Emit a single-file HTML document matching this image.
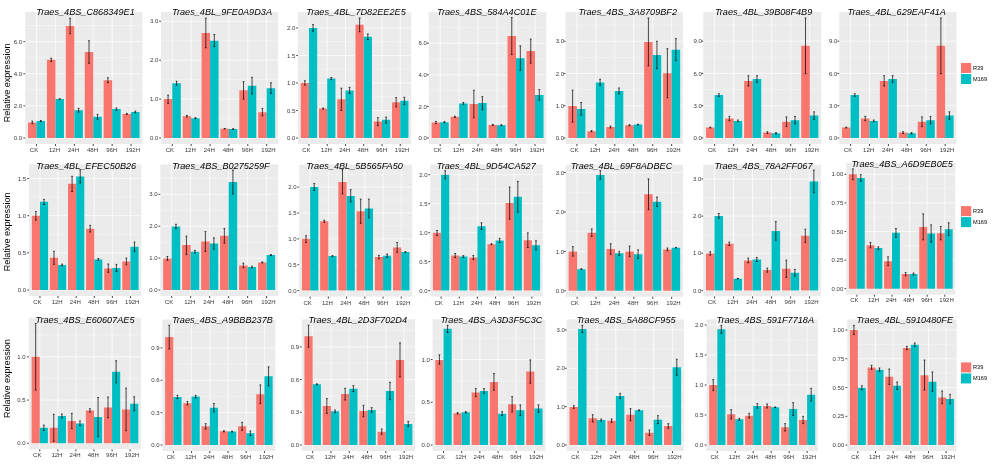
<!DOCTYPE html>
<html><head><meta charset="utf-8"><title>Relative expression</title>
<style>html,body{margin:0;padding:0;background:#fff}body{width:994px;height:466px;overflow:hidden}svg{display:block;filter:blur(0.35px)}</style>
</head><body>
<svg width="994" height="466" viewBox="0 0 994 466" font-family="'Liberation Sans', Arial, sans-serif">
<rect width="994" height="466" fill="#fff"/>
<g>
<rect x="25.2" y="12.1" width="117.2" height="131.87" fill="#EBEBEB"/>
<path d="M25.2 121.93H142.4M25.2 89.79H142.4M25.2 57.65H142.4M25.2 25.51H142.4" stroke="#fff" stroke-width="0.35" fill="none"/>
<path d="M25.2 138H142.4M25.2 105.86H142.4M25.2 73.72H142.4M25.2 41.58H142.4M36.54 12.1V143.97M55.45 12.1V143.97M74.35 12.1V143.97M93.25 12.1V143.97M112.15 12.1V143.97M131.06 12.1V143.97" stroke="#fff" stroke-width="0.7" fill="none"/>
<path d="M28.04 138V122.41H36.54V138ZM46.94 138V59.74H55.45V138ZM65.84 138V25.99H74.35V138ZM84.75 138V52.03H93.25V138ZM103.65 138V80.15H112.15V138ZM122.55 138V113.89H131.06V138Z" fill="#F8766D"/>
<path d="M36.54 138V121.05H45.05V138ZM55.45 138V99.11H63.95V138ZM74.35 138V110.2H82.85V138ZM93.25 138V116.79H101.76V138ZM112.15 138V109.07H120.66V138ZM131.06 138V111.97H139.56V138Z" fill="#00BFC4"/>
<path d="M32.29 121.13V123.7M31.39 121.13H33.19M31.39 123.7H33.19M40.8 120.48V121.61M39.9 120.48H41.7M39.9 121.61H41.7M51.19 58.13V61.35M50.29 58.13H52.09M50.29 61.35H52.09M59.7 98.63V99.59M58.8 98.63H60.6M58.8 99.59H60.6M70.1 18.28V33.71M69.2 18.28H71M69.2 33.71H71M78.6 108.27V112.13M77.7 108.27H79.5M77.7 112.13H79.5M89 40.78V63.27M88.1 40.78H89.9M88.1 63.27H89.9M97.5 114.38V119.2M96.6 114.38H98.4M96.6 119.2H98.4M107.9 77.74V82.56M107 77.74H108.8M107 82.56H108.8M116.41 107.95V110.2M115.51 107.95H117.31M115.51 110.2H117.31M126.8 113.41V114.38M125.9 113.41H127.7M125.9 114.38H127.7M135.31 111.16V112.77M134.41 111.16H136.21M134.41 112.77H136.21" stroke="#000" stroke-width="0.7" fill="none"/>
<path d="M23.4 138H25.2M23.4 105.86H25.2M23.4 73.72H25.2M23.4 41.58H25.2M36.54 143.97V146.07M55.45 143.97V146.07M74.35 143.97V146.07M93.25 143.97V146.07M112.15 143.97V146.07M131.06 143.97V146.07" stroke="#333" stroke-width="0.9" fill="none"/>
<g font-size="6.03" fill="#383838" text-anchor="end">
<text x="22" y="140.15">0.0</text>
<text x="22" y="108.01">2.0</text>
<text x="22" y="75.87">4.0</text>
<text x="22" y="43.73">6.0</text>
</g>
<g font-size="6.03" fill="#383838" text-anchor="middle">
<text x="34.04" y="151.52">CK</text>
<text x="54.55" y="151.52">12H</text>
<text x="73.55" y="151.52">24H</text>
<text x="92.5" y="151.52">48H</text>
<text x="111.65" y="151.52">96H</text>
<text x="132.86" y="151.52">192H</text>
</g>
<text transform="translate(85.5 14.8) scale(1 1.05)" font-size="9.15" font-style="italic" fill="#000" text-anchor="middle">Traes_4BS_C868349E1</text>
<text transform="translate(10 82.95) rotate(-90) scale(1 1.05)" font-size="9.05" fill="#000" text-anchor="middle">Relative expression</text>
</g>
<g>
<rect x="161" y="12.1" width="117" height="131.87" fill="#EBEBEB"/>
<path d="M161 118.55H278M161 79.65H278M161 40.75H278" stroke="#fff" stroke-width="0.35" fill="none"/>
<path d="M161 138H278M161 99.1H278M161 60.2H278M161 21.3H278M172.32 12.1V143.97M191.19 12.1V143.97M210.06 12.1V143.97M228.94 12.1V143.97M247.81 12.1V143.97M266.68 12.1V143.97" stroke="#fff" stroke-width="0.7" fill="none"/>
<path d="M163.83 138V99.1H172.32V138ZM182.7 138V116.22H191.19V138ZM201.57 138V32.97H210.06V138ZM220.44 138V128.66H228.94V138ZM239.31 138V90.15H247.81V138ZM258.19 138V112.33H266.68V138Z" fill="#F8766D"/>
<path d="M172.32 138V83.15H180.81V138ZM191.19 138V118.16H199.69V138ZM210.06 138V40.75H218.56V138ZM228.94 138V129.05H237.43V138ZM247.81 138V85.87H256.3V138ZM266.68 138V88.21H275.17V138Z" fill="#00BFC4"/>
<path d="M168.08 95.21V103.38M167.18 95.21H168.98M167.18 103.38H168.98M176.57 81.21V85.1M175.67 81.21H177.47M175.67 85.1H177.47M186.95 115.44V116.99M186.05 115.44H187.85M186.05 116.99H187.85M195.44 117.58V118.74M194.54 117.58H196.34M194.54 118.74H196.34M205.82 18.19V47.75M204.92 18.19H206.72M204.92 47.75H206.72M214.31 34.53V46.58M213.41 34.53H215.21M213.41 46.58H215.21M224.69 128.47V128.86M223.79 128.47H225.59M223.79 128.86H225.59M233.18 128.66V129.44M232.28 128.66H234.08M232.28 129.44H234.08M243.56 81.59V99.1M242.66 81.59H244.46M242.66 99.1H244.46M252.05 77.32V94.04M251.15 77.32H252.95M251.15 94.04H252.95M262.43 108.44V115.83M261.53 108.44H263.33M261.53 115.83H263.33M270.92 82.76V93.27M270.02 82.76H271.82M270.02 93.27H271.82" stroke="#000" stroke-width="0.7" fill="none"/>
<path d="M159.2 138H161M159.2 99.1H161M159.2 60.2H161M159.2 21.3H161M172.32 143.97V146.07M191.19 143.97V146.07M210.06 143.97V146.07M228.94 143.97V146.07M247.81 143.97V146.07M266.68 143.97V146.07" stroke="#333" stroke-width="0.9" fill="none"/>
<g font-size="6.03" fill="#383838" text-anchor="end">
<text x="158.3" y="140.15">0.0</text>
<text x="158.3" y="101.25">1.0</text>
<text x="158.3" y="62.35">2.0</text>
<text x="158.3" y="23.45">3.0</text>
</g>
<g font-size="6.03" fill="#383838" text-anchor="middle">
<text x="169.82" y="151.52">CK</text>
<text x="190.29" y="151.52">12H</text>
<text x="209.26" y="151.52">24H</text>
<text x="228.19" y="151.52">48H</text>
<text x="247.31" y="151.52">96H</text>
<text x="268.48" y="151.52">192H</text>
</g>
<text transform="translate(222 14.8) scale(1 1.05)" font-size="9.15" font-style="italic" fill="#000" text-anchor="middle">Traes_4BL_9FE0A9D3A</text>
</g>
<g>
<rect x="298" y="12.1" width="113.2" height="131.87" fill="#EBEBEB"/>
<path d="M298 124.24H411.2M298 96.71H411.2M298 69.19H411.2M298 41.66H411.2M298 14.14H411.2" stroke="#fff" stroke-width="0.35" fill="none"/>
<path d="M298 138H411.2M298 110.47H411.2M298 82.95H411.2M298 55.43H411.2M298 27.9H411.2M308.95 12.1V143.97M327.21 12.1V143.97M345.47 12.1V143.97M363.73 12.1V143.97M381.99 12.1V143.97M400.25 12.1V143.97" stroke="#fff" stroke-width="0.7" fill="none"/>
<path d="M300.74 138V82.95H308.95V138ZM319 138V108.55H327.21V138ZM337.25 138V99.19H345.47V138ZM355.51 138V24.87H363.73V138ZM373.77 138V121.48H381.99V138ZM392.03 138V102.22H400.25V138Z" fill="#F8766D"/>
<path d="M308.95 138V27.9H317.17V138ZM327.21 138V78.55H335.43V138ZM345.47 138V90.38H353.69V138ZM363.73 138V36.71H371.95V138ZM381.99 138V119.83H390.2V138ZM400.25 138V100.84H408.46V138Z" fill="#00BFC4"/>
<path d="M304.85 80.75V85.15M303.95 80.75H305.75M303.95 85.15H305.75M313.06 24.6V31.2M312.16 24.6H313.96M312.16 31.2H313.96M323.1 108V109.1M322.2 108H324M322.2 109.1H324M331.32 77.44V79.65M330.42 77.44H332.22M330.42 79.65H332.22M341.36 88.18V110.47M340.46 88.18H342.26M340.46 110.47H342.26M349.58 87.35V93.41M348.68 87.35H350.48M348.68 93.41H350.48M359.62 17.99V31.75M358.72 17.99H360.52M358.72 31.75H360.52M367.84 33.96V39.46M366.94 33.96H368.74M366.94 39.46H368.74M377.88 117.63V125.61M376.98 117.63H378.78M376.98 125.61H378.78M386.1 117.08V123.14M385.2 117.08H387M385.2 123.14H387M396.14 97.54V106.9M395.24 97.54H397.04M395.24 106.9H397.04M404.35 97.26V104.42M403.45 97.26H405.25M403.45 104.42H405.25" stroke="#000" stroke-width="0.7" fill="none"/>
<path d="M296.2 138H298M296.2 110.47H298M296.2 82.95H298M296.2 55.43H298M296.2 27.9H298M308.95 143.97V146.07M327.21 143.97V146.07M345.47 143.97V146.07M363.73 143.97V146.07M381.99 143.97V146.07M400.25 143.97V146.07" stroke="#333" stroke-width="0.9" fill="none"/>
<g font-size="6.03" fill="#383838" text-anchor="end">
<text x="295.3" y="140.15">0.0</text>
<text x="295.3" y="112.62">0.5</text>
<text x="295.3" y="85.1">1.0</text>
<text x="295.3" y="57.58">1.5</text>
<text x="295.3" y="30.05">2.0</text>
</g>
<g font-size="6.03" fill="#383838" text-anchor="middle">
<text x="306.45" y="151.52">CK</text>
<text x="326.31" y="151.52">12H</text>
<text x="344.67" y="151.52">24H</text>
<text x="362.98" y="151.52">48H</text>
<text x="381.49" y="151.52">96H</text>
<text x="402.05" y="151.52">192H</text>
</g>
<text transform="translate(356 14.8) scale(1 1.05)" font-size="9.15" font-style="italic" fill="#000" text-anchor="middle">Traes_4BL_7D82EE2E5</text>
</g>
<g>
<rect x="428.8" y="12.1" width="117.6" height="131.87" fill="#EBEBEB"/>
<path d="M428.8 122.2H546.4M428.8 90.6H546.4M428.8 59H546.4M428.8 27.4H546.4" stroke="#fff" stroke-width="0.35" fill="none"/>
<path d="M428.8 138H546.4M428.8 106.4H546.4M428.8 74.8H546.4M428.8 43.2H546.4M440.18 12.1V143.97M459.15 12.1V143.97M478.12 12.1V143.97M497.08 12.1V143.97M516.05 12.1V143.97M535.02 12.1V143.97" stroke="#fff" stroke-width="0.7" fill="none"/>
<path d="M431.65 138V122.52H440.18V138ZM450.61 138V116.83H459.15V138ZM469.58 138V104.03H478.12V138ZM488.55 138V124.89H497.08V138ZM507.52 138V36.09H516.05V138ZM526.48 138V50.94H535.02V138Z" fill="#F8766D"/>
<path d="M440.18 138V122.2H448.72V138ZM459.15 138V103.4H467.68V138ZM478.12 138V103.08H486.65V138ZM497.08 138V125.2H505.62V138ZM516.05 138V58.37H524.59V138ZM535.02 138V95.02H543.55V138Z" fill="#00BFC4"/>
<path d="M435.91 121.41V123.62M435.01 121.41H436.81M435.01 123.62H436.81M444.45 121.57V122.83M443.55 121.57H445.35M443.55 122.83H445.35M454.88 116.2V117.46M453.98 116.2H455.78M453.98 117.46H455.78M463.42 102.45V104.35M462.52 102.45H464.32M462.52 104.35H464.32M473.85 90.28V117.78M472.95 90.28H474.75M472.95 117.78H474.75M482.38 96.6V109.72M481.48 96.6H483.28M481.48 109.72H483.28M492.82 124.41V125.36M491.92 124.41H493.72M491.92 125.36H493.72M501.35 124.73V125.68M500.45 124.73H502.25M500.45 125.68H502.25M511.78 17.6V54.58M510.88 17.6H512.68M510.88 54.58H512.68M520.32 45.89V70.38M519.42 45.89H521.22M519.42 70.38H521.22M530.75 39.09V63.11M529.85 39.09H531.65M529.85 63.11H531.65M539.29 89.65V100.08M538.39 89.65H540.19M538.39 100.08H540.19" stroke="#000" stroke-width="0.7" fill="none"/>
<path d="M427 138H428.8M427 106.4H428.8M427 74.8H428.8M427 43.2H428.8M440.18 143.97V146.07M459.15 143.97V146.07M478.12 143.97V146.07M497.08 143.97V146.07M516.05 143.97V146.07M535.02 143.97V146.07" stroke="#333" stroke-width="0.9" fill="none"/>
<g font-size="6.03" fill="#383838" text-anchor="end">
<text x="426.9" y="140.15">0.0</text>
<text x="426.9" y="108.55">2.0</text>
<text x="426.9" y="76.95">4.0</text>
<text x="426.9" y="45.35">6.0</text>
</g>
<g font-size="6.03" fill="#383838" text-anchor="middle">
<text x="437.68" y="151.52">CK</text>
<text x="458.25" y="151.52">12H</text>
<text x="477.32" y="151.52">24H</text>
<text x="496.33" y="151.52">48H</text>
<text x="515.55" y="151.52">96H</text>
<text x="536.82" y="151.52">192H</text>
</g>
<text transform="translate(486.8 14.8) scale(1 1.05)" font-size="9.15" font-style="italic" fill="#000" text-anchor="middle">Traes_4BS_584A4C01E</text>
</g>
<g>
<rect x="565.5" y="12.1" width="117.5" height="131.87" fill="#EBEBEB"/>
<path d="M565.5 121.88H683M565.5 89.62H683M565.5 57.38H683M565.5 25.12H683" stroke="#fff" stroke-width="0.35" fill="none"/>
<path d="M565.5 138H683M565.5 105.75H683M565.5 73.5H683M565.5 41.25H683M576.87 12.1V143.97M595.82 12.1V143.97M614.77 12.1V143.97M633.73 12.1V143.97M652.68 12.1V143.97M671.63 12.1V143.97" stroke="#fff" stroke-width="0.7" fill="none"/>
<path d="M568.34 138V106.07H576.87V138ZM587.29 138V131.23H595.82V138ZM606.25 138V127.03H614.77V138ZM625.2 138V125.26H633.73V138ZM644.15 138V41.89H652.68V138ZM663.1 138V73.18H671.63V138Z" fill="#F8766D"/>
<path d="M576.87 138V108.97H585.4V138ZM595.82 138V82.53H604.35V138ZM614.77 138V90.91H623.3V138ZM633.73 138V124.62H642.25V138ZM652.68 138V54.96H661.21V138ZM671.63 138V49.63H680.16V138Z" fill="#00BFC4"/>
<path d="M572.61 90.11V122.2M571.71 90.11H573.51M571.71 122.2H573.51M581.14 102.53V115.1M580.24 102.53H582.04M580.24 115.1H582.04M591.56 130.58V131.87M590.66 130.58H592.46M590.66 131.87H592.46M600.09 79.31V85.43M599.19 79.31H600.99M599.19 85.43H600.99M610.51 126.07V128M609.61 126.07H611.41M609.61 128H611.41M619.04 88.01V93.82M618.14 88.01H619.94M618.14 93.82H619.94M629.46 124.78V125.75M628.56 124.78H630.36M628.56 125.75H630.36M637.99 124.29V124.94M637.09 124.29H638.89M637.09 124.94H638.89M648.41 18.03V65.76M647.51 18.03H649.31M647.51 65.76H649.31M656.94 41.25V68.66M656.04 41.25H657.84M656.04 68.66H657.84M667.36 48.67V97.69M666.46 48.67H668.26M666.46 97.69H668.26M675.89 38.67V60.6M674.99 38.67H676.79M674.99 60.6H676.79" stroke="#000" stroke-width="0.7" fill="none"/>
<path d="M563.7 138H565.5M563.7 105.75H565.5M563.7 73.5H565.5M563.7 41.25H565.5M576.87 143.97V146.07M595.82 143.97V146.07M614.77 143.97V146.07M633.73 143.97V146.07M652.68 143.97V146.07M671.63 143.97V146.07" stroke="#333" stroke-width="0.9" fill="none"/>
<g font-size="6.03" fill="#383838" text-anchor="end">
<text x="564" y="140.15">0.0</text>
<text x="564" y="107.9">1.0</text>
<text x="564" y="75.65">2.0</text>
<text x="564" y="43.4">3.0</text>
</g>
<g font-size="6.03" fill="#383838" text-anchor="middle">
<text x="574.37" y="151.52">CK</text>
<text x="594.92" y="151.52">12H</text>
<text x="613.97" y="151.52">24H</text>
<text x="632.98" y="151.52">48H</text>
<text x="652.18" y="151.52">96H</text>
<text x="673.43" y="151.52">192H</text>
</g>
<text transform="translate(627.8 14.8) scale(1 1.05)" font-size="9.15" font-style="italic" fill="#000" text-anchor="middle">Traes_4BS_3A8709BF2</text>
</g>
<g>
<rect x="703.2" y="12.1" width="118" height="131.87" fill="#EBEBEB"/>
<path d="M703.2 121.86H821.2M703.2 89.58H821.2M703.2 57.3H821.2M703.2 25.02H821.2" stroke="#fff" stroke-width="0.35" fill="none"/>
<path d="M703.2 138H821.2M703.2 105.72H821.2M703.2 73.44H821.2M703.2 41.16H821.2M714.62 12.1V143.97M733.65 12.1V143.97M752.68 12.1V143.97M771.72 12.1V143.97M790.75 12.1V143.97M809.78 12.1V143.97" stroke="#fff" stroke-width="0.7" fill="none"/>
<path d="M706.05 138V127.56H714.62V138ZM725.09 138V118.52H733.65V138ZM744.12 138V80.97H752.68V138ZM763.15 138V132.62H771.72V138ZM782.18 138V121.86H790.75V138ZM801.22 138V45.79H809.78V138Z" fill="#F8766D"/>
<path d="M714.62 138V95.07H723.18V138ZM733.65 138V120.89H742.22V138ZM752.68 138V79.04H761.25V138ZM771.72 138V133.27H780.28V138ZM790.75 138V120.25H799.31V138ZM809.78 138V115.51H818.35V138Z" fill="#00BFC4"/>
<path d="M710.34 127.13V127.99M709.44 127.13H711.24M709.44 127.99H711.24M718.9 93.78V96.36M718 93.78H719.8M718 96.36H719.8M729.37 116.37V120.68M728.47 116.37H730.27M728.47 120.68H730.27M737.93 120.03V121.75M737.03 120.03H738.83M737.03 121.75H738.83M748.4 75.7V86.03M747.5 75.7H749.3M747.5 86.03H749.3M756.97 75.7V82.37M756.07 75.7H757.87M756.07 82.37H757.87M767.43 131.76V133.48M766.53 131.76H768.33M766.53 133.48H768.33M776 132.62V133.91M775.1 132.62H776.9M775.1 133.91H776.9M786.47 116.91V126.59M785.57 116.91H787.37M785.57 126.59H787.37M795.03 116.48V123.9M794.13 116.48H795.93M794.13 123.9H795.93M805.5 18.03V73.66M804.6 18.03H806.4M804.6 73.66H806.4M814.06 111.85V119.28M813.16 111.85H814.96M813.16 119.28H814.96" stroke="#000" stroke-width="0.7" fill="none"/>
<path d="M701.4 138H703.2M701.4 105.72H703.2M701.4 73.44H703.2M701.4 41.16H703.2M714.62 143.97V146.07M733.65 143.97V146.07M752.68 143.97V146.07M771.72 143.97V146.07M790.75 143.97V146.07M809.78 143.97V146.07" stroke="#333" stroke-width="0.9" fill="none"/>
<g font-size="6.03" fill="#383838" text-anchor="end">
<text x="701.8" y="140.15">0.0</text>
<text x="701.8" y="107.87">3.0</text>
<text x="701.8" y="75.59">6.0</text>
<text x="701.8" y="43.31">9.0</text>
</g>
<g font-size="6.03" fill="#383838" text-anchor="middle">
<text x="712.12" y="151.52">CK</text>
<text x="732.75" y="151.52">12H</text>
<text x="751.88" y="151.52">24H</text>
<text x="770.97" y="151.52">48H</text>
<text x="790.25" y="151.52">96H</text>
<text x="811.58" y="151.52">192H</text>
</g>
<text transform="translate(763.6 14.8) scale(1 1.05)" font-size="9.15" font-style="italic" fill="#000" text-anchor="middle">Traes_4BL_39B08F4B9</text>
</g>
<g>
<rect x="839.2" y="12.1" width="117.3" height="131.87" fill="#EBEBEB"/>
<path d="M839.2 121.86H956.5M839.2 89.58H956.5M839.2 57.3H956.5M839.2 25.02H956.5" stroke="#fff" stroke-width="0.35" fill="none"/>
<path d="M839.2 138H956.5M839.2 105.72H956.5M839.2 73.44H956.5M839.2 41.16H956.5M850.55 12.1V143.97M869.47 12.1V143.97M888.39 12.1V143.97M907.31 12.1V143.97M926.23 12.1V143.97M945.15 12.1V143.97" stroke="#fff" stroke-width="0.7" fill="none"/>
<path d="M842.04 138V127.56H850.55V138ZM860.96 138V118.52H869.47V138ZM879.88 138V80.97H888.39V138ZM898.8 138V132.62H907.31V138ZM917.72 138V121.86H926.23V138ZM936.63 138V45.79H945.15V138Z" fill="#F8766D"/>
<path d="M850.55 138V95.07H859.07V138ZM869.47 138V120.89H877.98V138ZM888.39 138V79.04H896.9V138ZM907.31 138V133.27H915.82V138ZM926.23 138V120.25H934.74V138ZM945.15 138V115.51H953.66V138Z" fill="#00BFC4"/>
<path d="M846.29 127.13V127.99M845.39 127.13H847.19M845.39 127.99H847.19M854.81 93.78V96.36M853.91 93.78H855.71M853.91 96.36H855.71M865.21 116.37V120.68M864.31 116.37H866.11M864.31 120.68H866.11M873.73 120.03V121.75M872.83 120.03H874.63M872.83 121.75H874.63M884.13 75.7V86.03M883.23 75.7H885.03M883.23 86.03H885.03M892.65 75.7V82.37M891.75 75.7H893.55M891.75 82.37H893.55M903.05 131.76V133.48M902.15 131.76H903.95M902.15 133.48H903.95M911.57 132.62V133.91M910.67 132.62H912.47M910.67 133.91H912.47M921.97 116.91V126.59M921.07 116.91H922.87M921.07 126.59H922.87M930.49 116.48V123.9M929.59 116.48H931.39M929.59 123.9H931.39M940.89 18.03V73.66M939.99 18.03H941.79M939.99 73.66H941.79M949.41 111.85V119.28M948.51 111.85H950.31M948.51 119.28H950.31" stroke="#000" stroke-width="0.7" fill="none"/>
<path d="M837.4 138H839.2M837.4 105.72H839.2M837.4 73.44H839.2M837.4 41.16H839.2M850.55 143.97V146.07M869.47 143.97V146.07M888.39 143.97V146.07M907.31 143.97V146.07M926.23 143.97V146.07M945.15 143.97V146.07" stroke="#333" stroke-width="0.9" fill="none"/>
<g font-size="6.03" fill="#383838" text-anchor="end">
<text x="837.3" y="140.15">0.0</text>
<text x="837.3" y="107.87">3.0</text>
<text x="837.3" y="75.59">6.0</text>
<text x="837.3" y="43.31">9.0</text>
</g>
<g font-size="6.03" fill="#383838" text-anchor="middle">
<text x="848.05" y="151.52">CK</text>
<text x="868.57" y="151.52">12H</text>
<text x="887.59" y="151.52">24H</text>
<text x="906.56" y="151.52">48H</text>
<text x="925.73" y="151.52">96H</text>
<text x="946.95" y="151.52">192H</text>
</g>
<text transform="translate(896.7 14.8) scale(1 1.05)" font-size="9.15" font-style="italic" fill="#000" text-anchor="middle">Traes_4BL_629EAF41A</text>
<rect x="961" y="63" width="10.2" height="10" fill="#F8766D"/>
<rect x="961" y="74" width="10.2" height="10" fill="#00BFC4"/>
<text x="973" y="70" font-size="5.6" fill="#000">R39</text>
<text x="973" y="81" font-size="5.6" fill="#000">M169</text>
</g>
<g>
<rect x="29.1" y="164.4" width="112.2" height="131.57" fill="#EBEBEB"/>
<path d="M29.1 271.43H141.3M29.1 234.28H141.3M29.1 197.12H141.3" stroke="#fff" stroke-width="0.35" fill="none"/>
<path d="M29.1 290H141.3M29.1 252.85H141.3M29.1 215.7H141.3M29.1 178.55H141.3M39.96 164.4V295.97M58.05 164.4V295.97M76.15 164.4V295.97M94.25 164.4V295.97M112.35 164.4V295.97M130.44 164.4V295.97" stroke="#fff" stroke-width="0.7" fill="none"/>
<path d="M31.81 290V215.7H39.96V290ZM49.91 290V257.75H58.05V290ZM68.01 290V183.75H76.15V290ZM86.1 290V228.78H94.25V290ZM104.2 290V268.45H112.35V290ZM122.3 290V261.39H130.44V290Z" fill="#F8766D"/>
<path d="M39.96 290V201.81H48.1V290ZM58.05 290V265.04H66.2V290ZM76.15 290V176.54H84.3V290ZM94.25 290V259.39H102.39V290ZM112.35 290V268.08H120.49V290ZM130.44 290V246.76H138.59V290Z" fill="#00BFC4"/>
<path d="M35.89 211.46V220.16M34.99 211.46H36.79M34.99 220.16H36.79M44.03 199.35V204.56M43.13 199.35H44.93M43.13 204.56H44.93M53.98 251.36V264.37M53.08 251.36H54.88M53.08 264.37H54.88M62.13 264.14V265.93M61.23 264.14H63.03M61.23 265.93H63.03M72.08 176.32V191.55M71.18 176.32H72.98M71.18 191.55H72.98M80.22 169.86V183.01M79.32 169.86H81.12M79.32 183.01H81.12M90.18 225.36V232.05M89.28 225.36H91.08M89.28 232.05H91.08M98.32 258.5V260.28M97.42 258.5H99.22M97.42 260.28H99.22M108.27 264V272.39M107.37 264H109.17M107.37 272.39H109.17M116.42 264.37V271.43M115.52 264.37H117.32M115.52 271.43H117.32M126.37 258.05V264.74M125.47 258.05H127.27M125.47 264.74H127.27M134.51 242.08V251.36M133.61 242.08H135.41M133.61 251.36H135.41" stroke="#000" stroke-width="0.7" fill="none"/>
<path d="M27.3 290H29.1M27.3 252.85H29.1M27.3 215.7H29.1M27.3 178.55H29.1M39.96 295.97V298.07M58.05 295.97V298.07M76.15 295.97V298.07M94.25 295.97V298.07M112.35 295.97V298.07M130.44 295.97V298.07" stroke="#333" stroke-width="0.9" fill="none"/>
<g font-size="6.03" fill="#383838" text-anchor="end">
<text x="26.1" y="292.15">0.0</text>
<text x="26.1" y="255">0.5</text>
<text x="26.1" y="217.85">1.0</text>
<text x="26.1" y="180.7">1.5</text>
</g>
<g font-size="6.03" fill="#383838" text-anchor="middle">
<text x="37.46" y="304.02">CK</text>
<text x="57.15" y="304.02">12H</text>
<text x="75.35" y="304.02">24H</text>
<text x="93.5" y="304.02">48H</text>
<text x="111.85" y="304.02">96H</text>
<text x="132.24" y="304.02">192H</text>
</g>
<text transform="translate(86.2 168.8) scale(1 1.05)" font-size="9.15" font-style="italic" fill="#000" text-anchor="middle">Traes_4BL_EFEC50B26</text>
<text transform="translate(10 231.8) rotate(-90) scale(1 1.05)" font-size="9.05" fill="#000" text-anchor="middle">Relative expression</text>
</g>
<g>
<rect x="160.3" y="164.4" width="117.7" height="131.57" fill="#EBEBEB"/>
<path d="M160.3 274.05H278M160.3 242.15H278M160.3 210.25H278M160.3 178.35H278" stroke="#fff" stroke-width="0.35" fill="none"/>
<path d="M160.3 290H278M160.3 258.1H278M160.3 226.2H278M160.3 194.3H278M171.69 164.4V295.97M190.67 164.4V295.97M209.66 164.4V295.97M228.64 164.4V295.97M247.63 164.4V295.97M266.61 164.4V295.97" stroke="#fff" stroke-width="0.7" fill="none"/>
<path d="M163.15 290V258.42H171.69V290ZM182.13 290V245.02H190.67V290ZM201.12 290V241.51H209.66V290ZM220.1 290V235.77H228.64V290ZM239.08 290V265.44H247.63V290ZM258.07 290V262.41H266.61V290Z" fill="#F8766D"/>
<path d="M171.69 290V226.52H180.23V290ZM190.67 290V251.72H199.22V290ZM209.66 290V243.43H218.2V290ZM228.64 290V182.02H237.18V290ZM247.63 290V267.03H256.17V290ZM266.61 290V255.07H275.15V290Z" fill="#00BFC4"/>
<path d="M167.42 256.5V260.33M166.52 256.5H168.32M166.52 260.33H168.32M175.96 224.29V228.75M175.06 224.29H176.86M175.06 228.75H176.86M186.4 236.09V254.43M185.5 236.09H187.3M185.5 254.43H187.3M194.95 250.44V253M194.05 250.44H195.85M194.05 253H195.85M205.39 231.62V251.4M204.49 231.62H206.29M204.49 251.4H206.29M213.93 237.84V249.17M213.03 237.84H214.83M213.03 249.17H214.83M224.37 228.43V243.11M223.47 228.43H225.27M223.47 243.11H225.27M232.91 170.06V193.98M232.01 170.06H233.81M232.01 193.98H233.81M243.35 263.2V267.67M242.45 263.2H244.25M242.45 267.67H244.25M251.9 266.23V267.83M251 266.23H252.8M251 267.83H252.8M262.34 261.93V262.88M261.44 261.93H263.24M261.44 262.88H263.24M270.88 254.59V255.55M269.98 254.59H271.78M269.98 255.55H271.78" stroke="#000" stroke-width="0.7" fill="none"/>
<path d="M158.5 290H160.3M158.5 258.1H160.3M158.5 226.2H160.3M158.5 194.3H160.3M171.69 295.97V298.07M190.67 295.97V298.07M209.66 295.97V298.07M228.64 295.97V298.07M247.63 295.97V298.07M266.61 295.97V298.07" stroke="#333" stroke-width="0.9" fill="none"/>
<g font-size="6.03" fill="#383838" text-anchor="end">
<text x="157.6" y="292.15">0.0</text>
<text x="157.6" y="260.25">1.0</text>
<text x="157.6" y="228.35">2.0</text>
<text x="157.6" y="196.45">3.0</text>
</g>
<g font-size="6.03" fill="#383838" text-anchor="middle">
<text x="169.19" y="304.02">CK</text>
<text x="189.77" y="304.02">12H</text>
<text x="208.86" y="304.02">24H</text>
<text x="227.89" y="304.02">48H</text>
<text x="247.13" y="304.02">96H</text>
<text x="268.41" y="304.02">192H</text>
</g>
<text transform="translate(221 168.8) scale(1 1.05)" font-size="9.15" font-style="italic" fill="#000" text-anchor="middle">Traes_4BS_B0275259F</text>
</g>
<g>
<rect x="299.2" y="164.5" width="113" height="132.07" fill="#EBEBEB"/>
<path d="M299.2 277.66H412.2M299.2 251.79H412.2M299.2 225.91H412.2M299.2 200.04H412.2M299.2 174.16H412.2" stroke="#fff" stroke-width="0.35" fill="none"/>
<path d="M299.2 290.6H412.2M299.2 264.73H412.2M299.2 238.85H412.2M299.2 212.98H412.2M299.2 187.1H412.2M310.14 164.5V296.57M328.36 164.5V296.57M346.59 164.5V296.57M364.81 164.5V296.57M383.04 164.5V296.57M401.26 164.5V296.57" stroke="#fff" stroke-width="0.7" fill="none"/>
<path d="M301.93 290.6V238.85H310.14V290.6ZM320.16 290.6V221.26H328.36V290.6ZM338.39 290.6V181.93H346.59V290.6ZM356.61 290.6V211.22H364.81V290.6ZM374.84 290.6V257.12H383.04V290.6ZM393.06 290.6V247.39H401.26V290.6Z" fill="#F8766D"/>
<path d="M310.14 290.6V187.1H318.34V290.6ZM328.36 290.6V256.08H336.56V290.6ZM346.59 290.6V195.9H354.79V290.6ZM364.81 290.6V208.52H373.01V290.6ZM383.04 290.6V255.77H391.24V290.6ZM401.26 290.6V252.1H409.47V290.6Z" fill="#00BFC4"/>
<path d="M306.03 235.75V242.47M305.13 235.75H306.93M305.13 242.47H306.93M314.24 183.48V190.46M313.34 183.48H315.14M313.34 190.46H315.14M324.26 220.22V222.29M323.36 220.22H325.16M323.36 222.29H325.16M332.46 255.57V256.6M331.56 255.57H333.36M331.56 256.6H333.36M342.49 169.66V193.83M341.59 169.66H343.39M341.59 193.83H343.39M350.69 189.69V201.85M349.79 189.69H351.59M349.79 201.85H351.59M360.71 199.16V223.33M359.81 199.16H361.61M359.81 223.33H361.61M368.91 199.16V217.89M368.01 199.16H369.81M368.01 217.89H369.81M378.94 255.41V258.77M378.04 255.41H379.84M378.04 258.77H379.84M387.14 254.12V257.48M386.24 254.12H388.04M386.24 257.48H388.04M397.16 242.47V252.31M396.26 242.47H398.06M396.26 252.31H398.06M405.37 251.58V252.62M404.47 251.58H406.27M404.47 252.62H406.27" stroke="#000" stroke-width="0.7" fill="none"/>
<path d="M297.4 290.6H299.2M297.4 264.73H299.2M297.4 238.85H299.2M297.4 212.98H299.2M297.4 187.1H299.2M310.14 296.57V298.67M328.36 296.57V298.67M346.59 296.57V298.67M364.81 296.57V298.67M383.04 296.57V298.67M401.26 296.57V298.67" stroke="#333" stroke-width="0.9" fill="none"/>
<g font-size="6.03" fill="#383838" text-anchor="end">
<text x="296.5" y="292.75">0.0</text>
<text x="296.5" y="266.88">0.5</text>
<text x="296.5" y="241">1.0</text>
<text x="296.5" y="215.13">1.5</text>
<text x="296.5" y="189.25">2.0</text>
</g>
<g font-size="6.03" fill="#383838" text-anchor="middle">
<text x="307.64" y="304.62">CK</text>
<text x="327.46" y="304.62">12H</text>
<text x="345.79" y="304.62">24H</text>
<text x="364.06" y="304.62">48H</text>
<text x="382.54" y="304.62">96H</text>
<text x="403.06" y="304.62">192H</text>
</g>
<text transform="translate(354.5 168.8) scale(1 1.05)" font-size="9.15" font-style="italic" fill="#000" text-anchor="middle">Traes_4BL_5B565FA50</text>
</g>
<g>
<rect x="430.2" y="164.5" width="112.6" height="132.07" fill="#EBEBEB"/>
<path d="M430.2 276.11H542.8M430.2 247.14H542.8M430.2 218.16H542.8M430.2 189.19H542.8" stroke="#fff" stroke-width="0.35" fill="none"/>
<path d="M430.2 290.6H542.8M430.2 261.62H542.8M430.2 232.65H542.8M430.2 203.68H542.8M430.2 174.7H542.8M441.1 164.5V296.57M459.26 164.5V296.57M477.42 164.5V296.57M495.58 164.5V296.57M513.74 164.5V296.57M531.9 164.5V296.57" stroke="#fff" stroke-width="0.7" fill="none"/>
<path d="M432.92 290.6V232.82H441.1V290.6ZM451.09 290.6V255.54H459.26V290.6ZM469.25 290.6V257.57H477.42V290.6ZM487.41 290.6V244.24H495.58V290.6ZM505.57 290.6V203.1H513.74V290.6ZM523.73 290.6V240.18H531.9V290.6Z" fill="#F8766D"/>
<path d="M441.1 290.6V174.7H449.27V290.6ZM459.26 290.6V256.53H467.43V290.6ZM477.42 290.6V226.16H485.59V290.6ZM495.58 290.6V240.47H503.75V290.6ZM513.74 290.6V196.72H521.91V290.6ZM531.9 290.6V245.17H540.08V290.6Z" fill="#00BFC4"/>
<path d="M437.01 230.51V235.55M436.11 230.51H437.91M436.11 235.55H437.91M445.18 170.64V178.76M444.28 170.64H446.08M444.28 178.76H446.08M455.17 253.51V257.57M454.27 253.51H456.07M454.27 257.57H456.07M463.34 255.66V257.39M462.44 255.66H464.24M462.44 257.39H464.24M473.33 255.54V259.54M472.43 255.54H474.23M472.43 259.54H474.23M481.51 222.8V229.46M480.61 222.8H482.41M480.61 229.46H482.41M491.49 243.78V244.7M490.59 243.78H492.39M490.59 244.7H492.39M499.67 238.45V242.5M498.77 238.45H500.57M498.77 242.5H500.57M509.66 187.04V219.15M508.76 187.04H510.56M508.76 219.15H510.56M517.83 181.36V212.14M516.93 181.36H518.73M516.93 212.14H518.73M527.82 232.82V247.54M526.92 232.82H528.72M526.92 247.54H528.72M535.99 240.76V249.86M535.09 240.76H536.89M535.09 249.86H536.89" stroke="#000" stroke-width="0.7" fill="none"/>
<path d="M428.4 290.6H430.2M428.4 261.62H430.2M428.4 232.65H430.2M428.4 203.68H430.2M428.4 174.7H430.2M441.1 296.57V298.67M459.26 296.57V298.67M477.42 296.57V298.67M495.58 296.57V298.67M513.74 296.57V298.67M531.9 296.57V298.67" stroke="#333" stroke-width="0.9" fill="none"/>
<g font-size="6.03" fill="#383838" text-anchor="end">
<text x="427.5" y="292.75">0.0</text>
<text x="427.5" y="263.77">0.5</text>
<text x="427.5" y="234.8">1.0</text>
<text x="427.5" y="205.83">1.5</text>
<text x="427.5" y="176.85">2.0</text>
</g>
<g font-size="6.03" fill="#383838" text-anchor="middle">
<text x="438.6" y="304.62">CK</text>
<text x="458.36" y="304.62">12H</text>
<text x="476.62" y="304.62">24H</text>
<text x="494.83" y="304.62">48H</text>
<text x="513.24" y="304.62">96H</text>
<text x="533.7" y="304.62">192H</text>
</g>
<text transform="translate(486.3 168.8) scale(1 1.05)" font-size="9.15" font-style="italic" fill="#000" text-anchor="middle">Traes_4BL_9D54CA527</text>
</g>
<g>
<rect x="565.8" y="164.8" width="117.2" height="131.97" fill="#EBEBEB"/>
<path d="M565.8 271.1H683M565.8 231.7H683M565.8 192.3H683" stroke="#fff" stroke-width="0.35" fill="none"/>
<path d="M565.8 290.8H683M565.8 251.4H683M565.8 212H683M565.8 172.6H683M577.14 164.8V296.77M596.05 164.8V296.77M614.95 164.8V296.77M633.85 164.8V296.77M652.75 164.8V296.77M671.66 164.8V296.77" stroke="#fff" stroke-width="0.7" fill="none"/>
<path d="M568.64 290.8V251.4H577.14V290.8ZM587.54 290.8V232.69H596.05V290.8ZM606.44 290.8V249.04H614.95V290.8ZM625.35 290.8V251.4H633.85V290.8ZM644.25 290.8V194.27H652.75V290.8ZM663.15 290.8V249.43H671.66V290.8Z" fill="#F8766D"/>
<path d="M577.14 290.8V269.13H585.65V290.8ZM596.05 290.8V174.96H604.55V290.8ZM614.95 290.8V253.37H623.45V290.8ZM633.85 290.8V254.16H642.36V290.8ZM652.75 290.8V201.76H661.26V290.8ZM671.66 290.8V247.74H680.16V290.8Z" fill="#00BFC4"/>
<path d="M572.89 246.67V256.13M571.99 246.67H573.79M571.99 256.13H573.79M581.4 268.66V269.6M580.5 268.66H582.3M580.5 269.6H582.3M591.79 228.94V236.43M590.89 228.94H592.69M590.89 236.43H592.69M600.3 170.63V179.3M599.4 170.63H601.2M599.4 179.3H601.2M610.7 243.72V254.36M609.8 243.72H611.6M609.8 254.36H611.6M619.2 251.4V255.34M618.3 251.4H620.1M618.3 255.34H620.1M629.6 246.08V256.72M628.7 246.08H630.5M628.7 256.72H630.5M638.1 249.82V258.49M637.2 249.82H639M637.2 258.49H639M648.5 178.9V209.64M647.6 178.9H649.4M647.6 209.64H649.4M657.01 197.03V206.48M656.11 197.03H657.91M656.11 206.48H657.91M667.4 248.05V250.73M666.5 248.05H668.3M666.5 250.73H668.3M675.91 247.42V248.05M675.01 247.42H676.81M675.01 248.05H676.81" stroke="#000" stroke-width="0.7" fill="none"/>
<path d="M564 290.8H565.8M564 251.4H565.8M564 212H565.8M564 172.6H565.8M577.14 296.77V298.87M596.05 296.77V298.87M614.95 296.77V298.87M633.85 296.77V298.87M652.75 296.77V298.87M671.66 296.77V298.87" stroke="#333" stroke-width="0.9" fill="none"/>
<g font-size="6.03" fill="#383838" text-anchor="end">
<text x="564" y="292.95">0.0</text>
<text x="564" y="253.55">1.0</text>
<text x="564" y="214.15">2.0</text>
<text x="564" y="174.75">3.0</text>
</g>
<g font-size="6.03" fill="#383838" text-anchor="middle">
<text x="574.64" y="304.82">CK</text>
<text x="595.15" y="304.82">12H</text>
<text x="614.15" y="304.82">24H</text>
<text x="633.1" y="304.82">48H</text>
<text x="652.25" y="304.82">96H</text>
<text x="673.46" y="304.82">192H</text>
</g>
<text transform="translate(621.5 168.8) scale(1 1.05)" font-size="9.15" font-style="italic" fill="#000" text-anchor="middle">Traes_4BL_69F8ADBEC</text>
</g>
<g>
<rect x="703.1" y="164.8" width="117.9" height="131.57" fill="#EBEBEB"/>
<path d="M703.1 271.82H821M703.1 234.67H821M703.1 197.52H821" stroke="#fff" stroke-width="0.35" fill="none"/>
<path d="M703.1 290.4H821M703.1 253.25H821M703.1 216.1H821M703.1 178.95H821M714.51 164.8V296.37M733.53 164.8V296.37M752.54 164.8V296.37M771.56 164.8V296.37M790.57 164.8V296.37M809.59 164.8V296.37" stroke="#fff" stroke-width="0.7" fill="none"/>
<path d="M705.95 290.4V253.47H714.51V290.4ZM724.97 290.4V243.85H733.53V290.4ZM743.98 290.4V260.46H752.54V290.4ZM763 290.4V270.12H771.56V290.4ZM782.02 290.4V268.85H790.57V290.4ZM801.03 290.4V235.86H809.59V290.4Z" fill="#F8766D"/>
<path d="M714.51 290.4V215.91H723.07V290.4ZM733.53 290.4V278.77H742.08V290.4ZM752.54 290.4V259.45H761.1V290.4ZM771.56 290.4V230.96H780.12V290.4ZM790.57 290.4V272.79H799.13V290.4ZM809.59 290.4V181.55H818.15V290.4Z" fill="#00BFC4"/>
<path d="M710.23 251.76V255.11M709.33 251.76H711.13M709.33 255.11H711.13M718.79 213.5V218.33M717.89 213.5H719.69M717.89 218.33H719.69M729.25 242.1V245.45M728.35 242.1H730.15M728.35 245.45H730.15M737.8 278.47V279.07M736.9 278.47H738.7M736.9 279.07H738.7M748.26 258.08V262.8M747.36 258.08H749.16M747.36 262.8H749.16M756.82 257.49V261.42M755.92 257.49H757.72M755.92 261.42H757.72M767.28 268.11V272.2M766.38 268.11H768.18M766.38 272.2H768.18M775.84 221.56V240.25M774.94 221.56H776.74M774.94 240.25H776.74M786.3 260.12V277.4M785.4 260.12H787.2M785.4 277.4H787.2M794.85 269.45V276.1M793.95 269.45H795.75M793.95 276.1H795.75M805.31 229.21V242.48M804.41 229.21H806.21M804.41 242.48H806.21M813.87 170.03V192.7M812.97 170.03H814.77M812.97 192.7H814.77" stroke="#000" stroke-width="0.7" fill="none"/>
<path d="M701.3 290.4H703.1M701.3 253.25H703.1M701.3 216.1H703.1M701.3 178.95H703.1M714.51 296.37V298.47M733.53 296.37V298.47M752.54 296.37V298.47M771.56 296.37V298.47M790.57 296.37V298.47M809.59 296.37V298.47" stroke="#333" stroke-width="0.9" fill="none"/>
<g font-size="6.03" fill="#383838" text-anchor="end">
<text x="701.3" y="292.55">0.0</text>
<text x="701.3" y="255.4">1.0</text>
<text x="701.3" y="218.25">2.0</text>
<text x="701.3" y="181.1">3.0</text>
</g>
<g font-size="6.03" fill="#383838" text-anchor="middle">
<text x="712.01" y="304.42">CK</text>
<text x="732.63" y="304.42">12H</text>
<text x="751.74" y="304.42">24H</text>
<text x="770.81" y="304.42">48H</text>
<text x="790.07" y="304.42">96H</text>
<text x="811.39" y="304.42">192H</text>
</g>
<text transform="translate(763.5 168.8) scale(1 1.05)" font-size="9.15" font-style="italic" fill="#000" text-anchor="middle">Traes_4BS_78A2FF067</text>
</g>
<g>
<rect x="846.3" y="163.1" width="109" height="131.57" fill="#EBEBEB"/>
<path d="M846.3 274.4H955.3M846.3 245.8H955.3M846.3 217.2H955.3M846.3 188.6H955.3" stroke="#fff" stroke-width="0.35" fill="none"/>
<path d="M846.3 288.7H955.3M846.3 260.1H955.3M846.3 231.5H955.3M846.3 202.9H955.3M846.3 174.3H955.3M856.85 163.1V294.67M874.43 163.1V294.67M892.01 163.1V294.67M909.59 163.1V294.67M927.17 163.1V294.67M944.75 163.1V294.67" stroke="#fff" stroke-width="0.7" fill="none"/>
<path d="M848.94 288.7V174.3H856.85V288.7ZM866.52 288.7V245.23H874.43V288.7ZM884.1 288.7V261.13H892.01V288.7ZM901.68 288.7V274.06H909.59V288.7ZM919.26 288.7V226.92H927.17V288.7ZM936.84 288.7V233.22H944.75V288.7Z" fill="#F8766D"/>
<path d="M856.85 288.7V177.96H864.76V288.7ZM874.43 288.7V248.09H882.34V288.7ZM892.01 288.7V232.87H899.92V288.7ZM909.59 288.7V274.06H917.5V288.7ZM927.17 288.7V233.49H935.08V288.7ZM944.75 288.7V229.21H952.66V288.7Z" fill="#00BFC4"/>
<path d="M852.89 168.92V179.68M851.99 168.92H853.79M851.99 179.68H853.79M860.8 174.64V181.16M859.9 174.64H861.7M859.9 181.16H861.7M870.47 242.48V247.86M869.57 242.48H871.37M869.57 247.86H871.37M878.38 246.83V249.46M877.48 246.83H879.28M877.48 249.46H879.28M888.05 256.78V265.48M887.15 256.78H888.95M887.15 265.48H888.95M895.97 228.53V237.22M895.07 228.53H896.87M895.07 237.22H896.87M905.63 272.46V275.77M904.73 272.46H906.53M904.73 275.77H906.53M913.55 273.03V274.97M912.65 273.03H914.45M912.65 274.97H914.45M923.22 213.88V239.85M922.32 213.88H924.12M922.32 239.85H924.12M931.13 224.86V242.14M930.23 224.86H932.03M930.23 242.14H932.03M940.8 226.47V239.85M939.9 226.47H941.7M939.9 239.85H941.7M948.71 222.81V235.5M947.81 222.81H949.61M947.81 235.5H949.61" stroke="#000" stroke-width="0.7" fill="none"/>
<path d="M844.5 288.7H846.3M844.5 260.1H846.3M844.5 231.5H846.3M844.5 202.9H846.3M844.5 174.3H846.3M856.85 294.67V296.77M874.43 294.67V296.77M892.01 294.67V296.77M909.59 294.67V296.77M927.17 294.67V296.77M944.75 294.67V296.77" stroke="#333" stroke-width="0.9" fill="none"/>
<g font-size="6.03" fill="#383838" text-anchor="end">
<text x="843.3" y="290.85">0.00</text>
<text x="843.3" y="262.25">0.25</text>
<text x="843.3" y="233.65">0.50</text>
<text x="843.3" y="205.05">0.75</text>
<text x="843.3" y="176.45">1.00</text>
</g>
<g font-size="6.03" fill="#383838" text-anchor="middle">
<text x="854.35" y="301.92">CK</text>
<text x="873.53" y="301.92">12H</text>
<text x="891.21" y="301.92">24H</text>
<text x="908.84" y="301.92">48H</text>
<text x="926.67" y="301.92">96H</text>
<text x="946.55" y="301.92">192H</text>
</g>
<text transform="translate(902.2 166.5) scale(1 1.05)" font-size="9.15" font-style="italic" fill="#000" text-anchor="middle">Traes_4BS_A6D9EB0E5</text>
<rect x="961" y="206.1" width="10.2" height="10" fill="#F8766D"/>
<rect x="961" y="217.1" width="10.2" height="10" fill="#00BFC4"/>
<text x="973" y="213.1" font-size="5.6" fill="#000">R39</text>
<text x="973" y="224.1" font-size="5.6" fill="#000">M169</text>
</g>
<g>
<rect x="28.9" y="317.7" width="112.1" height="131.57" fill="#EBEBEB"/>
<path d="M28.9 421.68H141M28.9 378.43H141M28.9 335.18H141" stroke="#fff" stroke-width="0.35" fill="none"/>
<path d="M28.9 443.3H141M28.9 400.05H141M28.9 356.8H141M39.75 317.7V449.27M57.83 317.7V449.27M75.91 317.7V449.27M93.99 317.7V449.27M112.07 317.7V449.27M130.15 317.7V449.27" stroke="#fff" stroke-width="0.7" fill="none"/>
<path d="M31.61 443.3V356.8H39.75V443.3ZM49.69 443.3V427.73H57.83V443.3ZM67.77 443.3V420.98H75.91V443.3ZM85.85 443.3V410.43H93.99V443.3ZM103.93 443.3V407.4H112.07V443.3ZM122.02 443.3V409.39H130.15V443.3Z" fill="#F8766D"/>
<path d="M39.75 443.3V427.73H47.88V443.3ZM57.83 443.3V416.05H65.97V443.3ZM75.91 443.3V423.41H84.05V443.3ZM93.99 443.3V417H102.13V443.3ZM112.07 443.3V371.76H120.21V443.3ZM130.15 443.3V403.68H138.29V443.3Z" fill="#00BFC4"/>
<path d="M35.68 323.5V390.1M34.78 323.5H36.58M34.78 390.1H36.58M43.82 425.13V430.32M42.92 425.13H44.72M42.92 430.32H44.72M53.76 414.32V441.31M52.86 414.32H54.66M52.86 441.31H54.66M61.9 414.06V418.04M61 414.06H62.8M61 418.04H62.8M71.84 413.37V428.6M70.94 413.37H72.74M70.94 428.6H72.74M79.98 420.98V425.65M79.08 420.98H80.88M79.08 425.65H80.88M89.92 408.7V412.16M89.02 408.7H90.82M89.02 412.16H90.82M98.06 397.46V436.64M97.16 397.46H98.96M97.16 436.64H98.96M108 397.02V417.7M107.1 397.02H108.9M107.1 417.7H108.9M116.14 360.78V382.75M115.24 360.78H117.04M115.24 382.75H117.04M126.08 388.11V430.67M125.18 388.11H126.98M125.18 430.67H126.98M134.22 396.76V410.69M133.32 396.76H135.12M133.32 410.69H135.12" stroke="#000" stroke-width="0.7" fill="none"/>
<path d="M27.1 443.3H28.9M27.1 400.05H28.9M27.1 356.8H28.9M39.75 449.27V451.37M57.83 449.27V451.37M75.91 449.27V451.37M93.99 449.27V451.37M112.07 449.27V451.37M130.15 449.27V451.37" stroke="#333" stroke-width="0.9" fill="none"/>
<g font-size="6.03" fill="#383838" text-anchor="end">
<text x="25.6" y="445.45">0.0</text>
<text x="25.6" y="402.2">0.5</text>
<text x="25.6" y="358.95">1.0</text>
</g>
<g font-size="6.03" fill="#383838" text-anchor="middle">
<text x="37.25" y="456.92">CK</text>
<text x="56.93" y="456.92">12H</text>
<text x="75.11" y="456.92">24H</text>
<text x="93.24" y="456.92">48H</text>
<text x="111.57" y="456.92">96H</text>
<text x="131.95" y="456.92">192H</text>
</g>
<text transform="translate(85 322.9) scale(1 1.05)" font-size="9.15" font-style="italic" fill="#000" text-anchor="middle">Traes_4BS_E60607AE5</text>
<text transform="translate(10 378.7) rotate(-90) scale(1 1.05)" font-size="9.05" fill="#000" text-anchor="middle">Relative expression</text>
</g>
<g>
<rect x="162.4" y="319.4" width="113" height="131.57" fill="#EBEBEB"/>
<path d="M162.4 428.81H275.4M162.4 396.44H275.4M162.4 364.07H275.4M162.4 331.7H275.4" stroke="#fff" stroke-width="0.35" fill="none"/>
<path d="M162.4 445H275.4M162.4 412.63H275.4M162.4 380.26H275.4M162.4 347.89H275.4M173.34 319.4V450.97M191.56 319.4V450.97M209.79 319.4V450.97M228.01 319.4V450.97M246.24 319.4V450.97M264.46 319.4V450.97" stroke="#fff" stroke-width="0.7" fill="none"/>
<path d="M165.13 445V336.88H173.34V445ZM183.36 445V403.24H191.56V445ZM201.59 445V426.33H209.79V445ZM219.81 445V431.3H228.01V445ZM238.04 445V426.33H246.24V445ZM256.26 445V394.29H264.46V445Z" fill="#F8766D"/>
<path d="M173.34 445V396.98H181.54V445ZM191.56 445V396.61H199.76V445ZM209.79 445V407.67H217.99V445ZM228.01 445V431.62H236.21V445ZM246.24 445V433.35H254.44V445ZM264.46 445V376.27H272.67V445Z" fill="#00BFC4"/>
<path d="M169.23 325.23V348.97M168.33 325.23H170.13M168.33 348.97H170.13M177.44 395.37V398.6M176.54 395.37H178.34M176.54 398.6H178.34M187.46 401.62V404.97M186.56 401.62H188.36M186.56 404.97H188.36M195.66 395.37V397.96M194.76 395.37H196.56M194.76 397.96H196.56M205.69 423.64V429.03M204.79 423.64H206.59M204.79 429.03H206.59M213.89 403.62V411.66M212.99 403.62H214.79M212.99 411.66H214.79M223.91 430.76V431.84M223.01 430.76H224.81M223.01 431.84H224.81M232.11 431.19V432.05M231.21 431.19H233.01M231.21 432.05H233.01M242.14 422.34V430.33M241.24 422.34H243.04M241.24 430.33H243.04M250.34 430.97V435.61M249.44 430.97H251.24M249.44 435.61H251.24M260.36 384.9V403.62M259.46 384.9H261.26M259.46 403.62H261.26M268.57 366.88V385.65M267.67 366.88H269.47M267.67 385.65H269.47" stroke="#000" stroke-width="0.7" fill="none"/>
<path d="M160.6 445H162.4M160.6 412.63H162.4M160.6 380.26H162.4M160.6 347.89H162.4M173.34 450.97V453.07M191.56 450.97V453.07M209.79 450.97V453.07M228.01 450.97V453.07M246.24 450.97V453.07M264.46 450.97V453.07" stroke="#333" stroke-width="0.9" fill="none"/>
<g font-size="6.03" fill="#383838" text-anchor="end">
<text x="159.7" y="447.15">0.0</text>
<text x="159.7" y="414.78">0.3</text>
<text x="159.7" y="382.41">0.6</text>
<text x="159.7" y="350.04">0.9</text>
</g>
<g font-size="6.03" fill="#383838" text-anchor="middle">
<text x="170.84" y="458.62">CK</text>
<text x="190.66" y="458.62">12H</text>
<text x="208.99" y="458.62">24H</text>
<text x="227.26" y="458.62">48H</text>
<text x="245.74" y="458.62">96H</text>
<text x="266.26" y="458.62">192H</text>
</g>
<text transform="translate(222.4 322.8) scale(1 1.05)" font-size="9.15" font-style="italic" fill="#000" text-anchor="middle">Traes_4BS_A9BBB237B</text>
</g>
<g>
<rect x="301.7" y="319.4" width="113.4" height="131.57" fill="#EBEBEB"/>
<path d="M301.7 428.65H415.1M301.7 395.95H415.1M301.7 363.25H415.1M301.7 330.55H415.1" stroke="#fff" stroke-width="0.35" fill="none"/>
<path d="M301.7 445H415.1M301.7 412.3H415.1M301.7 379.6H415.1M301.7 346.9H415.1M312.67 319.4V450.97M330.96 319.4V450.97M349.25 319.4V450.97M367.55 319.4V450.97M385.84 319.4V450.97M404.13 319.4V450.97" stroke="#fff" stroke-width="0.7" fill="none"/>
<path d="M304.44 445V336.22H312.67V445ZM322.73 445V405.98H330.96V445ZM341.02 445V393.99H349.25V445ZM359.31 445V410.99H367.55V445ZM377.6 445V431.7H385.84V445ZM395.9 445V359.98H404.13V445Z" fill="#F8766D"/>
<path d="M312.67 445V384.29H320.9V445ZM330.96 445V411.32H339.2V445ZM349.25 445V388.65H357.49V445ZM367.55 445V410.01H375.78V445ZM385.84 445V390.94H394.07V445ZM404.13 445V423.96H412.36V445Z" fill="#00BFC4"/>
<path d="M308.56 325.21V347.23M307.66 325.21H309.46M307.66 347.23H309.46M316.79 383.85V384.72M315.89 383.85H317.69M315.89 384.72H317.69M326.85 398.62V413.39M325.95 398.62H327.75M325.95 413.39H327.75M335.08 410.01V412.63M334.18 410.01H335.98M334.18 412.63H335.98M345.14 388.32V399.98M344.24 388.32H346.04M344.24 399.98H346.04M353.37 385.6V391.59M352.47 385.6H354.27M352.47 391.59H354.27M363.43 405.32V416.66M362.53 405.32H364.33M362.53 416.66H364.33M371.66 407.61V412.3M370.76 407.61H372.56M370.76 412.3H372.56M381.72 428.98V434.32M380.82 428.98H382.62M380.82 434.32H382.62M389.95 382.32V399.66M389.05 382.32H390.85M389.05 399.66H390.85M400.01 342.87V376.98M399.11 342.87H400.91M399.11 376.98H400.91M408.24 421.35V426.69M407.34 421.35H409.14M407.34 426.69H409.14" stroke="#000" stroke-width="0.7" fill="none"/>
<path d="M299.9 445H301.7M299.9 412.3H301.7M299.9 379.6H301.7M299.9 346.9H301.7M312.67 450.97V453.07M330.96 450.97V453.07M349.25 450.97V453.07M367.55 450.97V453.07M385.84 450.97V453.07M404.13 450.97V453.07" stroke="#333" stroke-width="0.9" fill="none"/>
<g font-size="6.03" fill="#383838" text-anchor="end">
<text x="299" y="447.15">0.0</text>
<text x="299" y="414.45">0.3</text>
<text x="299" y="381.75">0.6</text>
<text x="299" y="349.05">0.9</text>
</g>
<g font-size="6.03" fill="#383838" text-anchor="middle">
<text x="310.17" y="458.62">CK</text>
<text x="330.06" y="458.62">12H</text>
<text x="348.45" y="458.62">24H</text>
<text x="366.8" y="458.62">48H</text>
<text x="385.34" y="458.62">96H</text>
<text x="405.93" y="458.62">192H</text>
</g>
<text transform="translate(357.8 322.8) scale(1 1.05)" font-size="9.15" font-style="italic" fill="#000" text-anchor="middle">Traes_4BL_2D3F702D4</text>
</g>
<g>
<rect x="432.6" y="319.4" width="112.7" height="131.57" fill="#EBEBEB"/>
<path d="M432.6 423.64H545.3M432.6 380.91H545.3M432.6 338.19H545.3" stroke="#fff" stroke-width="0.35" fill="none"/>
<path d="M432.6 445H545.3M432.6 402.27H545.3M432.6 359.55H545.3M443.51 319.4V450.97M461.68 319.4V450.97M479.86 319.4V450.97M498.04 319.4V450.97M516.22 319.4V450.97M534.39 319.4V450.97" stroke="#fff" stroke-width="0.7" fill="none"/>
<path d="M435.33 445V359.89H443.51V445ZM453.5 445V413.3H461.68V445ZM471.68 445V392.62H479.86V445ZM489.86 445V381.94H498.04V445ZM508.04 445V404.27H516.22V445ZM526.21 445V371.6H534.39V445Z" fill="#F8766D"/>
<path d="M443.51 445V328.79H451.69V445ZM461.68 445V412.27H469.86V445ZM479.86 445V390.91H488.04V445ZM498.04 445V413.64H506.22V445ZM516.22 445V410.31H524.4V445ZM534.39 445V408.6H542.57V445Z" fill="#00BFC4"/>
<path d="M439.42 354.85V364.25M438.52 354.85H440.32M438.52 364.25H440.32M447.6 325.37V332.55M446.7 325.37H448.5M446.7 332.55H448.5M457.59 412.61V413.98M456.69 412.61H458.49M456.69 413.98H458.49M465.77 411.59V412.96M464.87 411.59H466.67M464.87 412.96H466.67M475.77 388.6V396.64M474.87 388.6H476.67M474.87 396.64H476.67M483.95 388.6V393.3M483.05 388.6H484.85M483.05 393.3H484.85M493.95 373.56V390.31M493.05 373.56H494.85M493.05 390.31H494.85M502.13 411.67V415.61M501.23 411.67H503.03M501.23 415.61H503.03M512.13 396.64V411.93M511.23 396.64H513.03M511.23 411.93H513.03M520.31 404.92V415.61M519.41 404.92H521.21M519.41 415.61H521.21M530.3 359.89V383.22M529.4 359.89H531.2M529.4 383.22H531.2M538.48 404.92V412.27M537.58 404.92H539.38M537.58 412.27H539.38" stroke="#000" stroke-width="0.7" fill="none"/>
<path d="M430.8 445H432.6M430.8 402.27H432.6M430.8 359.55H432.6M443.51 450.97V453.07M461.68 450.97V453.07M479.86 450.97V453.07M498.04 450.97V453.07M516.22 450.97V453.07M534.39 450.97V453.07" stroke="#333" stroke-width="0.9" fill="none"/>
<g font-size="6.03" fill="#383838" text-anchor="end">
<text x="429.9" y="447.15">0.0</text>
<text x="429.9" y="404.42">0.5</text>
<text x="429.9" y="361.7">1.0</text>
</g>
<g font-size="6.03" fill="#383838" text-anchor="middle">
<text x="441.01" y="458.62">CK</text>
<text x="460.78" y="458.62">12H</text>
<text x="479.06" y="458.62">24H</text>
<text x="497.29" y="458.62">48H</text>
<text x="515.72" y="458.62">96H</text>
<text x="536.19" y="458.62">192H</text>
</g>
<text transform="translate(491.4 322.8) scale(1 1.05)" font-size="9.15" font-style="italic" fill="#000" text-anchor="middle">Traes_4BS_A3D3F5C3C</text>
</g>
<g>
<rect x="566.7" y="319.4" width="117.2" height="131.57" fill="#EBEBEB"/>
<path d="M566.7 425.82H683.9M566.7 387.48H683.9M566.7 349.12H683.9" stroke="#fff" stroke-width="0.35" fill="none"/>
<path d="M566.7 445H683.9M566.7 406.65H683.9M566.7 368.3H683.9M566.7 329.95H683.9M578.04 319.4V450.97M596.95 319.4V450.97M615.85 319.4V450.97M634.75 319.4V450.97M653.65 319.4V450.97M672.56 319.4V450.97" stroke="#fff" stroke-width="0.7" fill="none"/>
<path d="M569.54 445V407.03H578.04V445ZM588.44 445V418.31H596.95V445ZM607.34 445V420.65H615.85V445ZM626.25 445V414.7H634.75V445ZM645.15 445V432.73H653.65V445ZM664.05 445V425.98H672.56V445Z" fill="#F8766D"/>
<path d="M578.04 445V328.95H586.55V445ZM596.95 445V420H605.45V445ZM615.85 445V395.99H624.35V445ZM634.75 445V410.33H643.26V445ZM653.65 445V419.69H662.16V445ZM672.56 445V367.3H681.06V445Z" fill="#00BFC4"/>
<path d="M573.79 405.65V408.34M572.89 405.65H574.69M572.89 408.34H574.69M582.3 325.35V332.63M581.4 325.35H583.2M581.4 332.63H583.2M592.69 414.7V421.99M591.79 414.7H593.59M591.79 421.99H593.59M601.2 419V420.99M600.3 419H602.1M600.3 420.99H602.1M611.6 419V422.37M610.7 419H612.5M610.7 422.37H612.5M620.1 393.3V398.63M619.2 393.3H621M619.2 398.63H621M630.5 408.64V420.65M629.6 408.64H631.4M629.6 420.65H631.4M639 409.95V410.72M638.1 409.95H639.9M638.1 410.72H639.9M649.4 430.04V435.34M648.5 430.04H650.3M648.5 435.34H650.3M657.91 415.66V423.66M657.01 415.66H658.81M657.01 423.66H658.81M668.3 423.66V428.32M667.4 423.66H669.2M667.4 428.32H669.2M676.81 359.29V375.32M675.91 359.29H677.71M675.91 375.32H677.71" stroke="#000" stroke-width="0.7" fill="none"/>
<path d="M564.9 445H566.7M564.9 406.65H566.7M564.9 368.3H566.7M564.9 329.95H566.7M578.04 450.97V453.07M596.95 450.97V453.07M615.85 450.97V453.07M634.75 450.97V453.07M653.65 450.97V453.07M672.56 450.97V453.07" stroke="#333" stroke-width="0.9" fill="none"/>
<g font-size="6.03" fill="#383838" text-anchor="end">
<text x="564.8" y="447.15">0.0</text>
<text x="564.8" y="408.8">1.0</text>
<text x="564.8" y="370.45">2.0</text>
<text x="564.8" y="332.1">3.0</text>
</g>
<g font-size="6.03" fill="#383838" text-anchor="middle">
<text x="575.54" y="458.62">CK</text>
<text x="596.05" y="458.62">12H</text>
<text x="615.05" y="458.62">24H</text>
<text x="634" y="458.62">48H</text>
<text x="653.15" y="458.62">96H</text>
<text x="674.36" y="458.62">192H</text>
</g>
<text transform="translate(626.1 322.8) scale(1 1.05)" font-size="9.15" font-style="italic" fill="#000" text-anchor="middle">Traes_4BS_5A88CF955</text>
</g>
<g>
<rect x="706.5" y="319.4" width="111.4" height="131.57" fill="#EBEBEB"/>
<path d="M706.5 430H817.9M706.5 400H817.9M706.5 370H817.9M706.5 340H817.9" stroke="#fff" stroke-width="0.35" fill="none"/>
<path d="M706.5 445H817.9M706.5 415H817.9M706.5 385H817.9M706.5 355H817.9M706.5 325H817.9M717.28 319.4V450.97M735.25 319.4V450.97M753.22 319.4V450.97M771.18 319.4V450.97M789.15 319.4V450.97M807.12 319.4V450.97" stroke="#fff" stroke-width="0.7" fill="none"/>
<path d="M709.2 445V385H717.28V445ZM727.16 445V414.34H735.25V445ZM745.13 445V415.66H753.22V445ZM763.1 445V406H771.18V445ZM781.07 445V427.36H789.15V445ZM799.03 445V419.98H807.12V445Z" fill="#F8766D"/>
<path d="M717.28 445V329.32H725.37V445ZM735.25 445V419.32H743.33V445ZM753.22 445V406H761.3V445ZM771.18 445V407.32H779.27V445ZM789.15 445V409H797.24V445ZM807.12 445V394.66H815.2V445Z" fill="#00BFC4"/>
<path d="M713.24 379.6V390.4M712.34 379.6H714.14M712.34 390.4H714.14M721.32 325.36V333.4M720.42 325.36H722.22M720.42 333.4H722.22M731.21 409.66V419.02M730.31 409.66H732.11M730.31 419.02H732.11M739.29 418.36V420.34M738.39 418.36H740.19M738.39 420.34H740.19M749.17 413.32V418M748.27 413.32H750.07M748.27 418H750.07M757.26 403.66V408.34M756.36 403.66H758.16M756.36 408.34H758.16M767.14 404.02V407.98M766.24 404.02H768.04M766.24 407.98H768.04M775.23 406.96V407.68M774.33 406.96H776.13M774.33 407.68H776.13M785.11 423.64V431.02M784.21 423.64H786.01M784.21 431.02H786.01M793.19 402.64V415.36M792.29 402.64H794.09M792.29 415.36H794.09M803.08 416.32V423.64M802.18 416.32H803.98M802.18 423.64H803.98M811.16 388.36V401.02M810.26 388.36H812.06M810.26 401.02H812.06" stroke="#000" stroke-width="0.7" fill="none"/>
<path d="M704.7 445H706.5M704.7 415H706.5M704.7 385H706.5M704.7 355H706.5M704.7 325H706.5M717.28 450.97V453.07M735.25 450.97V453.07M753.22 450.97V453.07M771.18 450.97V453.07M789.15 450.97V453.07M807.12 450.97V453.07" stroke="#333" stroke-width="0.9" fill="none"/>
<g font-size="6.03" fill="#383838" text-anchor="end">
<text x="703.3" y="447.15">0.0</text>
<text x="703.3" y="417.15">0.5</text>
<text x="703.3" y="387.15">1.0</text>
<text x="703.3" y="357.15">1.5</text>
<text x="703.3" y="327.15">2.0</text>
</g>
<g font-size="6.03" fill="#383838" text-anchor="middle">
<text x="714.78" y="458.62">CK</text>
<text x="734.35" y="458.62">12H</text>
<text x="752.42" y="458.62">24H</text>
<text x="770.43" y="458.62">48H</text>
<text x="788.65" y="458.62">96H</text>
<text x="808.92" y="458.62">192H</text>
</g>
<text transform="translate(765.3 323.1) scale(1 1.05)" font-size="9.15" font-style="italic" fill="#000" text-anchor="middle">Traes_4BS_591F7718A</text>
</g>
<g>
<rect x="847.3" y="319.5" width="109.4" height="131.57" fill="#EBEBEB"/>
<path d="M847.3 430.71H956.7M847.3 401.94H956.7M847.3 373.16H956.7M847.3 344.39H956.7" stroke="#fff" stroke-width="0.35" fill="none"/>
<path d="M847.3 445.1H956.7M847.3 416.33H956.7M847.3 387.55H956.7M847.3 358.78H956.7M847.3 330H956.7M857.89 319.5V451.07M875.53 319.5V451.07M893.18 319.5V451.07M910.82 319.5V451.07M928.47 319.5V451.07M946.11 319.5V451.07" stroke="#fff" stroke-width="0.7" fill="none"/>
<path d="M849.95 445.1V330H857.89V445.1ZM867.59 445.1V367.41H875.53V445.1ZM885.24 445.1V376.73H893.18V445.1ZM902.88 445.1V348.01H910.82V445.1ZM920.53 445.1V375.35H928.47V445.1ZM938.17 445.1V397.39H946.11V445.1Z" fill="#F8766D"/>
<path d="M857.89 445.1V387.71H865.83V445.1ZM875.53 445.1V369.71H883.47V445.1ZM893.18 445.1V385.71H901.12V445.1ZM910.82 445.1V344.73H918.76V445.1ZM928.47 445.1V381.68H936.41V445.1ZM946.11 445.1V399.06H954.05V445.1Z" fill="#00BFC4"/>
<path d="M853.92 325.4V334.6M853.02 325.4H854.82M853.02 334.6H854.82M861.86 385.71V389.74M860.96 385.71H862.76M860.96 389.74H862.76M871.56 365.34V369.36M870.66 365.34H872.46M870.66 369.36H872.46M879.5 367.98V371.44M878.6 367.98H880.4M878.6 371.44H880.4M889.21 369.02V384.38M888.31 369.02H890.11M888.31 384.38H890.11M897.15 382.03V389.39M896.25 382.03H898.05M896.25 389.39H898.05M906.85 346.34V349.68M905.95 346.34H907.75M905.95 349.68H907.75M914.79 343.01V346.34M913.89 343.01H915.69M913.89 346.34H915.69M924.5 360.04V390.08M923.6 360.04H925.4M923.6 390.08H925.4M932.44 372.01V391.35M931.54 372.01H933.34M931.54 391.35H933.34M942.14 391V403.78M941.24 391H943.04M941.24 403.78H943.04M950.08 394.46V403.78M949.18 394.46H950.98M949.18 403.78H950.98" stroke="#000" stroke-width="0.7" fill="none"/>
<path d="M845.5 445.1H847.3M845.5 416.33H847.3M845.5 387.55H847.3M845.5 358.78H847.3M845.5 330H847.3M857.89 451.07V453.17M875.53 451.07V453.17M893.18 451.07V453.17M910.82 451.07V453.17M928.47 451.07V453.17M946.11 451.07V453.17" stroke="#333" stroke-width="0.9" fill="none"/>
<g font-size="6.03" fill="#383838" text-anchor="end">
<text x="844.3" y="447.25">0.00</text>
<text x="844.3" y="418.48">0.25</text>
<text x="844.3" y="389.7">0.50</text>
<text x="844.3" y="360.93">0.75</text>
<text x="844.3" y="332.15">1.00</text>
</g>
<g font-size="6.03" fill="#383838" text-anchor="middle">
<text x="855.39" y="458.72">CK</text>
<text x="874.63" y="458.72">12H</text>
<text x="892.38" y="458.72">24H</text>
<text x="910.07" y="458.72">48H</text>
<text x="927.97" y="458.72">96H</text>
<text x="947.91" y="458.72">192H</text>
</g>
<text transform="translate(904.8 322.8) scale(1 1.05)" font-size="9.15" font-style="italic" fill="#000" text-anchor="middle">Traes_4BL_5910480FE</text>
<rect x="961" y="362.4" width="10.2" height="10" fill="#F8766D"/>
<rect x="961" y="373.4" width="10.2" height="10" fill="#00BFC4"/>
<text x="973" y="369.4" font-size="5.6" fill="#000">R39</text>
<text x="973" y="380.4" font-size="5.6" fill="#000">M169</text>
</g>
</svg>
</body></html>
